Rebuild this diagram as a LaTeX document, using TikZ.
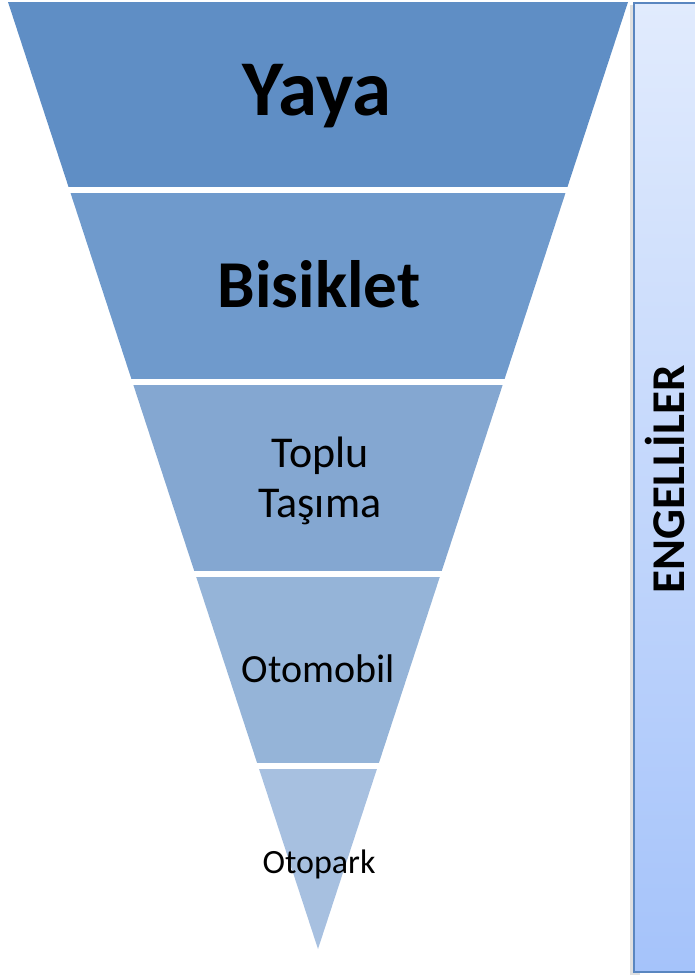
\documentclass[tikz,border=0pt]{standalone}
\usepackage{fontspec}
\setmainfont{Carlito}
\definecolor{bandA}{HTML}{5F8EC5}
\definecolor{bandB}{HTML}{6F9ACC}
\definecolor{bandC}{HTML}{84A7D1}
\definecolor{bandD}{HTML}{95B4D8}
\definecolor{bandE}{HTML}{A7C0E0}
\definecolor{barTop}{HTML}{E1EBFD}
\definecolor{barBot}{HTML}{A5C3FA}
\definecolor{barLine}{HTML}{5A86C0}
\begin{document}
\begin{tikzpicture}[x=1pt,y=-1pt,
  lbl/.style={inner sep=0pt,anchor=base,text=black}]
\useasboundingbox (0,0) rectangle (695,975);
% funnel bands
\begin{scope}
  \clip (8,2) -- (628,2) -- (318,949) -- cycle;
  \fill[bandA] (0,2) rectangle (640,187);
  \fill[bandB] (0,193) rectangle (640,379);
  \fill[bandC] (0,385) rectangle (640,571);
  \fill[bandD] (0,577) rectangle (640,763);
  \fill[bandE] (0,769) rectangle (640,950);
\end{scope}
% side bar
\fill[black!12] (630,5) rectangle (640,975);
\shade[top color=barTop,bottom color=barBot] (634,3) rectangle (700,972);
\draw[barLine,line width=2pt] (634,3) rectangle (700,972);
% labels
\node[lbl,font=\bfseries\fontsize{79}{90}\selectfont] (yaya) at (317,115) {Yaya};
\node[lbl,font=\bfseries\fontsize{67}{80}\selectfont] (bisiklet) at (319,307) {Bisiklet};
\node[lbl,font=\fontsize{44}{50}\selectfont] (toplu) at (320,467) {Toplu};
\node[lbl,font=\fontsize{44}{50}\selectfont] (tasima) at (320,517) {Taşıma};
\node[lbl,font=\fontsize{40}{48}\selectfont] (otomobil) at (318.5,682) {Otomobil};
\node[lbl,font=\fontsize{34}{40}\selectfont] (otopark) at (319,873) {Otopark};
\node[lbl,rotate=90,font=\bfseries\fontsize{47}{56}\selectfont] (engel) at (684,479.5) {ENGELLİLER};
\end{tikzpicture}
\end{document}
